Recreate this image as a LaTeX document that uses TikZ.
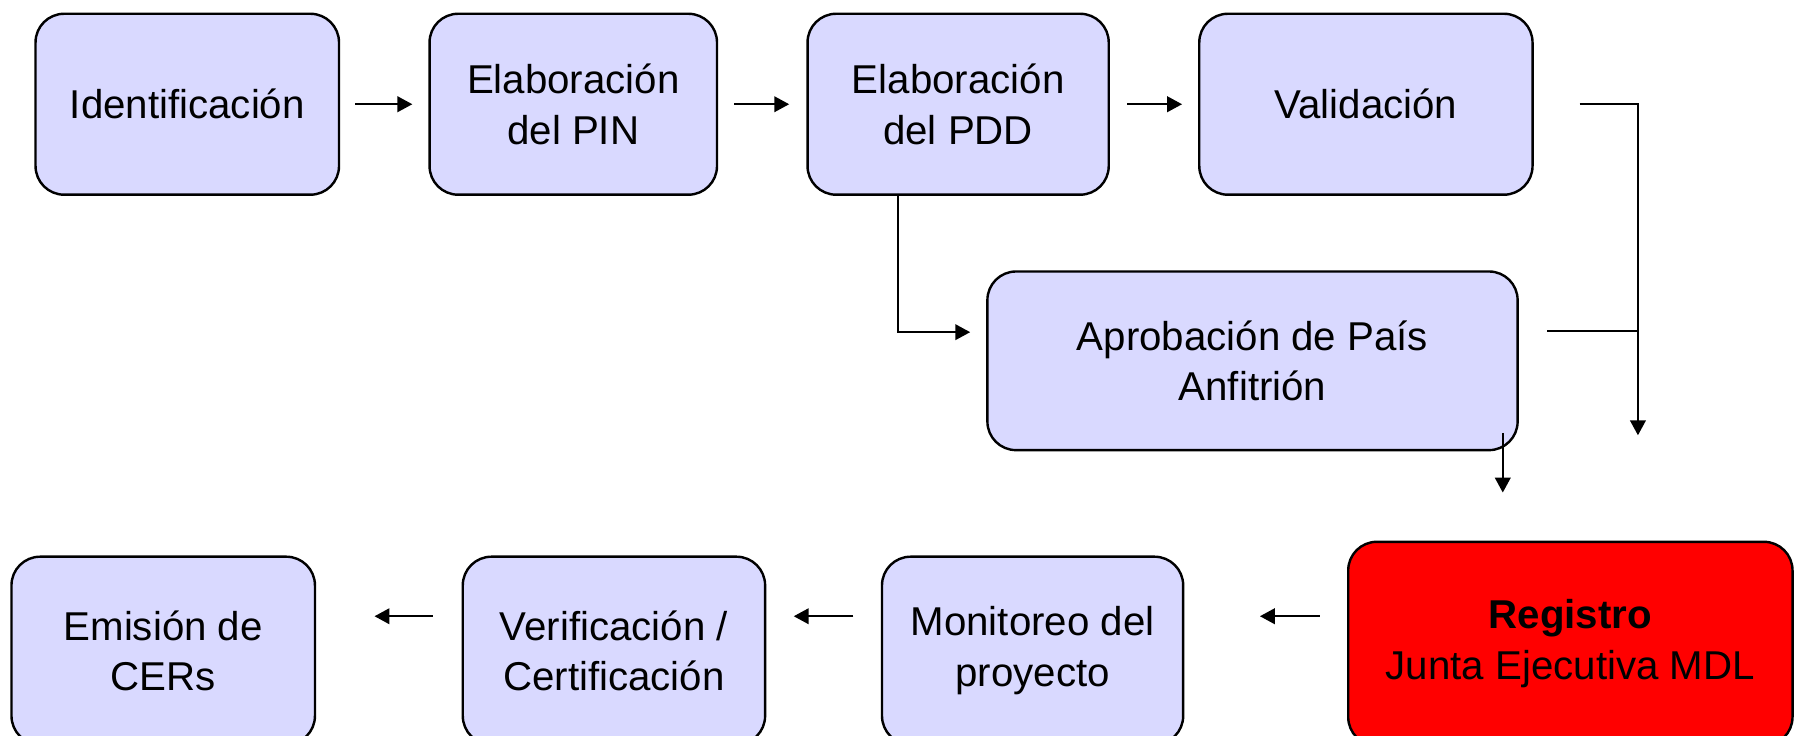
\documentclass[tikz,border=0pt]{standalone}
\usepackage{fontspec}
\setmainfont{Liberation Sans}
\usetikzlibrary{arrows.meta}
\definecolor{boxfill}{RGB}{217,217,255}
\definecolor{regred}{RGB}{255,0,0}
\tikzset{
  stepbox/.style={draw=black, line width=1.2pt, fill=boxfill, rounded corners=0.5cm,
    inner sep=0pt, align=center, font=\fontsize{20}{25}\selectfont},
  conn/.style={draw=black, line width=0.85pt},
  arr/.style={conn, -{Triangle[length=7.4pt,width=7.8pt]}},
}
\begin{document}
\begin{tikzpicture}[x=0.02cm, y=-0.02cm]
\clip (0,0) rectangle (1568,642);
\fill[white] (0,0) rectangle (1568,642);
% top row
\node[stepbox, minimum width=5.3cm, minimum height=3.16cm] (ident) at (163.5,91) {Identificación};
\node[stepbox, minimum width=5.02cm, minimum height=3.16cm] (pin) at (500.5,91) {Elaboración\\del PIN};
\node[stepbox, minimum width=5.26cm, minimum height=3.16cm] (pdd) at (836.5,91) {Elaboración\\del PDD};
\node[stepbox, minimum width=5.82cm, minimum height=3.16cm] (val) at (1192.5,91) {Validación};
% middle
\node[stepbox, minimum width=9.26cm, minimum height=3.12cm] (apr) at (1093.5,315) {Aprobación de País\\Anfitrión};
% bottom row
\node[stepbox, minimum width=7.76cm, minimum height=3.56cm, fill=regred] (reg) at (1371,562) {\textbf{Registro}\\Junta Ejecutiva MDL};
\node[stepbox, minimum width=5.26cm, minimum height=3.28cm] (mon) at (901.5,568) {Monitoreo del\\proyecto};
\node[stepbox, minimum width=5.28cm, minimum height=3.28cm] (ver) at (536,568) {Verificación /\\Certificación};
\node[stepbox, minimum width=5.3cm, minimum height=3.28cm] (emi) at (142.5,568) {Emisión de\\CERs};
% top connectors
\draw[arr, shorten <=0.26cm, shorten >=0.28cm] (ident.east) -- (pin.west);
\draw[arr, shorten <=0.28cm, shorten >=0.3cm] (pin.east) -- (pdd.west);
\draw[arr, shorten <=0.3cm, shorten >=0.28cm] (pdd.east) -- (val.west);
% PDD to Aprobacion
\draw[arr, shorten >=0.28cm] ([xshift=-1.05cm]pdd.south) |- ([yshift=0.5cm]apr.west);
% Validacion and Aprobacion to Registro
\coordinate (vt) at (1430,380);
\coordinate (aj) at (1430,289);
\draw[arr] ([xshift=0.8cm]val.east) -| (vt);
\draw[conn] ([xshift=0.5cm]apr.east |- aj) -- (aj);
\coordinate (as) at (1312,378);
\coordinate (ae) at (1312,430);
\draw[arr] (as) -- (ae);
% bottom connectors
\coordinate (b1s) at (1152,538);
\coordinate (b1e) at (1100,538);
\coordinate (b2s) at (745,538);
\coordinate (b2e) at (693,538);
\coordinate (b3s) at (378,538);
\coordinate (b3e) at (327,538);
\draw[arr] (b1s) -- (b1e);
\draw[arr] (b2s) -- (b2e);
\draw[arr] (b3s) -- (b3e);
\end{tikzpicture}
\end{document}
